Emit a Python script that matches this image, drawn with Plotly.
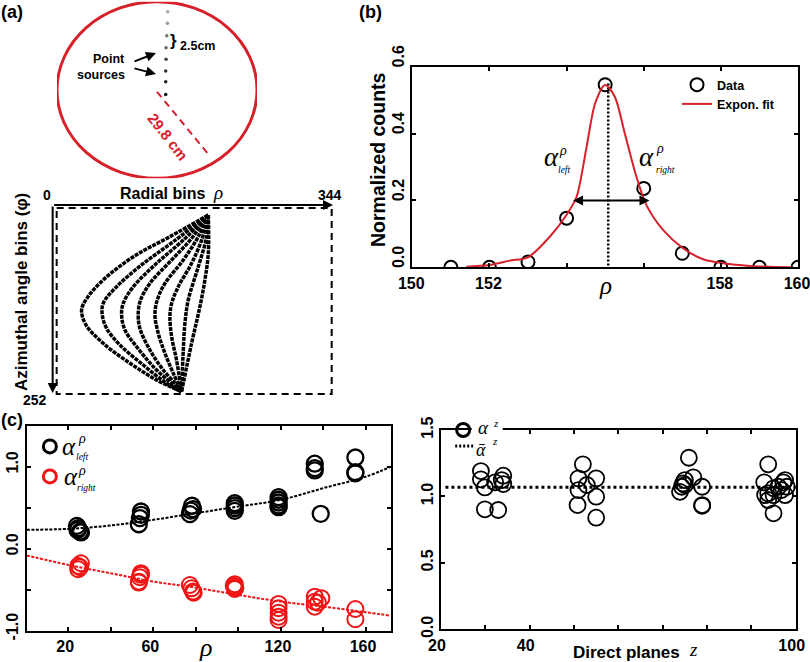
import plotly.graph_objects as go

W, H = 810, 662
SANS = "Liberation Sans"
SERIF = "Liberation Serif"
RED = "#ee1515"
RING = "#d6202a"

# (a) schematic, centimetres from the ring centre
ring_radius = 29.8
source_x = [3.2, 3.1, 2.9, 2.7, 2.7, 2.6, 2.6, 2.6]
source_y = [26.4, 22.5, 18.3, 14.3, 10.4, 6.4, 2.8, -1.5]
source_shade = ["#aaaaaa", "#999999", "#777777", "#666666", "#444444", "#333333", "#222222", "#111111"]
radius_x = [0, 15.9]
radius_y = [-0.6, -22.5]

# (a) sinogram curves, radial bin / angle bin
sino_x = [
    [191, 144, 99, 62, 42, 35.5, 41, 62, 95, 127.5, 158.2],
    [191, 148, 109, 78.5, 62, 60.9, 66.2, 82.6, 111.2, 139.8, 158.2],
    [191, 160.3, 127.5, 99, 86.6, 84.6, 88.7, 103, 123.5, 148, 158.2],
    [191, 170.5, 146, 119.4, 107.9, 105, 107, 119.4, 135.7, 152, 158.2],
    [191, 178.7, 160.3, 137.8, 128.4, 125.5, 129.6, 137.8, 148, 158.2],
    [191, 182.8, 170.5, 154.1, 146, 143.9, 146, 152, 158.2],
    [191, 189, 178.7, 166.4, 162.3, 160.3, 158.2],
    [191, 191, 186.8, 180.7, 170.5, 158.2],
]
sino_y = [
    [13.4, 42.4, 69.3, 100.5, 125.1, 140.7, 160.9, 185.4, 212.2, 234.6, 250.2],
    [13.4, 49.2, 80.4, 109.5, 131.8, 147.4, 165.3, 187.7, 214.5, 239, 250.2],
    [13.4, 47, 78.2, 109.5, 131.8, 147.4, 167.6, 189.9, 216.7, 241.3, 250.2],
    [13.4, 44.7, 73.7, 105, 127.3, 145.2, 165.3, 194.4, 221.2, 241.3, 250.2],
    [13.4, 42.4, 73.7, 105, 127.3, 147.4, 172, 198.8, 225.6, 250.2],
    [13.4, 47, 78.2, 109.5, 131.8, 149.7, 176.5, 207.8, 250.2],
    [13.4, 42.4, 82.7, 127.3, 158.6, 194.4, 250.2],
    [13.4, 64.8, 100.5, 136.3, 185.4, 250.2],
]

# (b) profile
b_data_x = [151, 152, 153, 154, 155, 156, 157, 158, 159, 160]
b_data_y = [0, 0, 0.016, 0.147, 0.546, 0.236, 0.042, 0, 0, 0]
b_fit_x = [151.4, 152.0, 152.53, 153.0, 153.57, 154.0, 154.26, 154.52, 154.74, 155.0, 155.25,
           155.51, 155.81, 156.07, 156.5, 157.02, 157.54, 158.06, 158.75, 159.8]
b_fit_y = [0.002, 0.007, 0.02, 0.03, 0.092, 0.157, 0.211, 0.361, 0.49, 0.545, 0.51,
           0.40, 0.271, 0.186, 0.112, 0.057, 0.024, 0.012, 0.004, 0]
b_xticks = [150, 152, 154, 156, 158, 160]
b_xlabels = ["150", "152", "", "", "158", "160"]
b_yticks = [0, 0.2, 0.4, 0.6]
b_ylabels = ["0.0", "0.2", "0.4", "0.6"]

# (c) left / right slopes against radial position
left_x = [24.1, 24.7, 24.4, 25.5, 26, 54.2, 54.2, 53.7, 53.2, 78.2, 78.7, 77.2, 77.6,
          98.3, 98.3, 98.3, 98.3, 118.9, 118.9, 118.9, 118.9, 118.9,
          135.9, 135.9, 135.9, 138.7, 155, 155, 155]
left_y = [0.28, 0.252, 0.23, 0.21, 0.2, 0.455, 0.415, 0.375, 0.30, 0.525, 0.484, 0.423, 0.467,
          0.557, 0.528, 0.496, 0.463, 0.63, 0.598, 0.565, 0.528, 0.508,
          1.037, 0.984, 0.955, 0.427, 1.113, 0.935, 0.92]
right_x = [26, 24.7, 24.7, 25.5, 54.2, 53.7, 53.2, 53.2, 54.2, 77.2, 78, 78.7, 79,
           98.3, 98.3, 98.3, 97.8, 98.6, 118.9, 118.9, 118.9, 118.9, 118.9,
           135.9, 135.9, 135.9, 139, 137.4, 155, 155]
right_y = [-0.175, -0.207, -0.248, -0.223, -0.296, -0.345, -0.399, -0.41, -0.316, -0.44, -0.48, -0.52, -0.533,
           -0.43, -0.46, -0.488, -0.448, -0.472, -0.67, -0.723, -0.777, -0.826, -0.866,
           -0.582, -0.643, -0.704, -0.60, -0.655, -0.732, -0.857]
left_fit_x = [0.5, 20, 40, 60, 80, 100, 120, 140, 160, 171.6]
left_fit_y = [0.232, 0.244, 0.285, 0.354, 0.435, 0.516, 0.598, 0.74, 0.88, 1.0]
right_fit_x = [0.5, 20, 40, 60, 80, 100, 120, 140, 160, 171.6]
right_fit_y = [-0.08, -0.195, -0.297, -0.398, -0.472, -0.561, -0.642, -0.703, -0.772, -0.813]
c_xticks = [20, 40, 60, 80, 100, 120, 140, 160]
c_xlabels = ["20", "", "60", "", "", "120", "", "160"]
c_yticks = [-1, -0.5, 0, 0.5, 1, 1.5]
c_ylabels = ["-1.0", "", "0.0", "", "1.0", ""]

# (c, right) slope against direct plane
z_x = [29.0, 29.0, 29.9, 32.2, 34.05, 34.05, 33.7, 29.9, 32.9,
       52, 51, 51, 50.8, 55, 55, 52.9, 55,
       75.9, 75, 74.6, 74.3, 73.9, 76.9, 78.9, 78.9, 75, 78.9,
       93.8, 92.9, 97.6, 97.2, 95, 93.8, 95, 95, 96.1, 97.6, 96.8, 93.1, 93.8, 98]
z_y = [1.191, 1.129, 1.068, 1.106, 1.156, 1.093, 1.123, 0.903, 0.898,
       1.242, 1.136, 1.048, 0.935, 1.136, 0.998, 1.086, 0.84,
       1.291, 1.123, 1.098, 1.073, 1.035, 1.144, 1.073, 0.935, 1.086, 0.93,
       1.242, 1.106, 1.123, 1.106, 0.873, 0.973, 1.061, 1.01, 1.073, 1.01, 1.048, 1.01, 1.023, 1.073]
z_mean = 1.07
z_span = [21, 101]
d_xticks = [20, 30, 40, 50, 60, 70, 80, 90, 100]
d_xlabels = ["20", "", "40", "", "", "", "", "", "100"]
d_yticks = [0, 0.5, 1, 1.5]
d_ylabels = ["0.0", "0.5", "1.0", "1.5"]


def xdom(a, b):
    return [a / W, b / W]


def ydom(top, bottom):
    return [1 - bottom / H, 1 - top / H]


fig = go.Figure()

# schematic
fig.add_trace(go.Scatter(x=radius_x, y=radius_y, mode="lines", xaxis="x", yaxis="y", showlegend=False,
                         line=dict(color=RING, width=2, dash="7px,5px")))
fig.add_trace(go.Scatter(x=source_x, y=source_y, mode="markers", xaxis="x", yaxis="y", showlegend=False,
                         marker=dict(color=source_shade, size=3.5)))
# sinogram
for cx, cy in zip(sino_x, sino_y):
    fig.add_trace(go.Scatter(x=cx, y=cy, mode="lines", xaxis="x2", yaxis="y2", showlegend=False,
                             line=dict(color="black", width=3.5, shape="spline", smoothing=1, dash="4px,1px")))
# (b)
fig.add_trace(go.Scatter(x=[155.08, 155.08], y=[0.55, 0], mode="lines", xaxis="x3", yaxis="y3", showlegend=False,
                         line=dict(color="black", width=2.5, dash="2px,2px")))
fig.add_trace(go.Scatter(x=b_data_x, y=b_data_y, mode="markers", name="Data", xaxis="x3", yaxis="y3",
                         marker=dict(symbol="circle-open", size=13, color="black", line=dict(width=2, color="black"))))
fig.add_trace(go.Scatter(x=b_fit_x, y=b_fit_y, mode="lines", name="Expon. fit", xaxis="x3", yaxis="y3",
                         line=dict(color=RING, width=2, shape="spline", smoothing=0.8)))
# (c)
for fx, fy, col in [(left_fit_x, left_fit_y, "black"), (right_fit_x, right_fit_y, RED)]:
    fig.add_trace(go.Scatter(x=fx, y=fy, mode="lines", xaxis="x4", yaxis="y4", showlegend=False,
                             line=dict(color=col, width=2, dash="3px,1.5px", shape="spline")))
for px_, py_, col, lw in [(left_x, left_y, "black", 2.3), (right_x, right_y, RED, 2)]:
    fig.add_trace(go.Scatter(x=px_, y=py_, mode="markers", xaxis="x4", yaxis="y4", showlegend=False,
                             marker=dict(symbol="circle-open", size=16, color=col, line=dict(width=lw, color=col))))
for ly, col in [(1.248, "black"), (0.882, RED)]:
    fig.add_trace(go.Scatter(x=[11.4], y=[ly], mode="markers", xaxis="x4", yaxis="y4", showlegend=False,
                             marker=dict(symbol="circle-open", size=13, color=col, line=dict(width=3, color=col))))
# (d)
fig.add_trace(go.Scatter(x=z_span, y=[z_mean, z_mean], mode="lines", xaxis="x5", yaxis="y5", showlegend=False,
                         cliponaxis=False, line=dict(color="black", width=3, dash="3px,3px")))
fig.add_trace(go.Scatter(x=z_x, y=z_y, mode="markers", xaxis="x5", yaxis="y5", showlegend=False, cliponaxis=False,
                         marker=dict(symbol="circle-open", size=16, color="black", line=dict(width=1.8, color="black"))))
fig.add_trace(go.Scatter(x=[25], y=[1.5], mode="markers", xaxis="x5", yaxis="y5", showlegend=False, cliponaxis=False,
                         marker=dict(symbol="circle-open", size=13, color="black", line=dict(width=3, color="black"))))
fig.add_trace(go.Scatter(x=[23.2, 27.3], y=[1.38, 1.38], mode="lines", xaxis="x5", yaxis="y5", showlegend=False,
                         cliponaxis=False, line=dict(color="black", width=3, dash="2px,2px")))


def ann(px, py, text, size=14, bold=True, serif=False, italic=False, color="black", angle=0, **kw):
    t = text
    if italic:
        t = f"<i>{t}</i>"
    fig.add_annotation(xref="paper", yref="paper", x=px / W, y=1 - py / H, text=t, showarrow=False,
                       textangle=angle, xanchor=kw.pop("xanchor", "center"), yanchor="middle",
                       font=dict(family=SERIF if serif else SANS, size=size, color=color,
                                 weight="bold" if bold else "normal"), **kw)


def arrow(x, y, ax, ay, xr, yr, width=2, head=1, side="end"):
    fig.add_annotation(x=x, y=y, ax=ax, ay=ay, xref=xr, yref=yr, axref=xr, ayref=yr, text="", showarrow=True,
                       arrowhead=2, arrowwidth=width, arrowsize=head, arrowside=side, arrowcolor="black")


def pixel_arrow(x0, y0, x1, y1):
    fig.add_annotation(xref="paper", yref="paper", x=x1 / W, y=1 - y1 / H, ax=x0 - x1, ay=y0 - y1,
                       axref="pixel", ayref="pixel", text="", showarrow=True, arrowhead=2,
                       arrowwidth=2, arrowsize=1, arrowcolor="black")


# panel letters
ann(12, 12, "(a)", 18)
ann(370, 12, "(b)", 18)
ann(12, 420, "(c)", 18)

# schematic text
ann(109, 59, "Point", 12.5)
ann(101, 75, "sources", 12.5)
ann(197, 46, "2.5cm", 12.5)
ann(173, 41, "}", 17)
ann(168, 136, "29.8 cm", 15, color=RING, angle=52)
pixel_arrow(133, 62, 156, 53)
pixel_arrow(133, 68, 156, 74)

# sinogram text
ann(162, 193, "Radial bins", 16)
ann(218, 192, "ρ", 19, bold=False, serif=True, italic=True)
ann(47, 195, "0", 14)
ann(330, 195, "344", 14)
ann(35, 400, "252", 14)
ann(21, 292, "Azimuthal angle bins (φ)", 17, angle=-90)
arrow(344, 0, 0, 0, "x2", "y2")
arrow(0, 252, 0, 0, "x2", "y2")

# (b) text
ann(378, 160, "Normalized counts", 19.5, angle=-90)
ann(605, 285, "ρ", 25, bold=False, serif=True, italic=True)
ann(551, 157, "α", 27, bold=False, serif=True, italic=True)
ann(563, 150, "ρ", 14, bold=False, serif=True, italic=True)
ann(564, 170, "left", 9.5, bold=False, serif=True, italic=True)
ann(646, 157, "α", 27, bold=False, serif=True, italic=True)
ann(660, 148, "ρ", 14, bold=False, serif=True, italic=True)
ann(665, 170, "right", 9.5, bold=False, serif=True, italic=True)
arrow(156.15, 0.2, 154.13, 0.2, "x3", "y3", side="end+start")

# (c) text
ann(205, 647, "ρ", 26, bold=False, serif=True, italic=True)
ann(69, 446, "α", 25, bold=False, serif=True, italic=True)
ann(82, 438, "ρ", 14, bold=False, serif=True, italic=True)
ann(82, 457, "left", 9.5, bold=False, serif=True, italic=True)
ann(71, 476, "α", 25, bold=False, serif=True, italic=True)
ann(82, 470, "ρ", 14, bold=False, serif=True, italic=True)
ann(86, 488, "right", 9.5, bold=False, serif=True, italic=True)

# (d) text
ann(483, 428, "α", 19, bold=False, serif=True, italic=True)
ann(496, 423, "z", 11, bold=False, serif=True, italic=True)
ann(481, 450, "ᾱ", 18, bold=False, serif=True, italic=True)
ann(495, 441, "z", 11, bold=False, serif=True, italic=True)
ann(626, 652, "Direct planes", 17)
ann(693, 649, "z", 19, bold=False, serif=True, italic=True)

fig.add_shape(type="circle", xref="x", yref="y", x0=-ring_radius, x1=ring_radius,
              y0=-ring_radius, y1=ring_radius, line=dict(color=RING, width=3))
fig.add_shape(type="rect", xref="x2", yref="y2", x0=4.9, x1=342.4, y0=4, y1=253.3,
              line=dict(color="black", width=2, dash="7px,5px"))
fig.add_shape(type="rect", xref="paper", yref="paper", x0=471.7 / W, x1=502.7 / W,
              y0=1 - 435 / H, y1=1 - 425 / H, fillcolor="white", line=dict(width=0), layer="above")

hidden = dict(visible=False, showgrid=False, zeroline=False)
box = dict(showline=True, linecolor="black", linewidth=2, mirror="ticks", ticks="inside", ticklen=4,
           tickwidth=2, tickcolor="black", showgrid=False, zeroline=False, automargin=False,
           ticklabeloverflow="allow",
           tickfont=dict(family=SANS, size=16, color="black", weight="bold"))

fig.update_layout(
    width=W, height=H, margin=dict(l=0, r=0, t=0, b=0, autoexpand=False), paper_bgcolor="white", plot_bgcolor="white",
    font=dict(family=SANS),
    legend=dict(x=677 / W, y=1 - 70 / H, xanchor="left", yanchor="top", bgcolor="rgba(0,0,0,0)",
                font=dict(family=SANS, size=12.5, color="black", weight="bold"), itemwidth=30, tracegroupgap=4),
    xaxis=dict(domain=xdom(57, 257), range=[-29.8, 29.8], **hidden),
    yaxis=dict(domain=ydom(1.7, 178.3), range=[-29.8, 29.8], **hidden),
    xaxis2=dict(domain=xdom(45, 340), range=[-9.4, 352.6], anchor="y2", **hidden),
    yaxis2=dict(domain=ydom(198, 400), range=[261.4, -9.4], anchor="x2", **hidden),
    xaxis3=dict(domain=xdom(412.3, 798), range=[150, 160], anchor="y3", tickvals=b_xticks, ticktext=b_xlabels,
                ticklabelshift=-1, **box),
    yaxis3=dict(domain=ydom(66.7, 267.3), range=[0, 0.6], anchor="x3", tickvals=b_yticks, ticktext=b_ylabels,
                tickangle=-90, ticklabelshift=-8, **box),
    xaxis4=dict(domain=xdom(26.7, 390.7), range=[0.5, 171.6], anchor="y4", tickvals=c_xticks, ticktext=c_xlabels,
                ticklabelshift=-3, **box),
    yaxis4=dict(domain=ydom(425.7, 631), range=[-1, 1.5], anchor="x4", tickvals=c_yticks, ticktext=c_ylabels,
                tickangle=-90, ticklabelshift=-2, **box),
    xaxis5=dict(domain=xdom(441, 795.7), range=[20, 100], anchor="y5", tickvals=d_xticks, ticktext=d_xlabels,
                ticklabelshift=-4, **box),
    yaxis5=dict(domain=ydom(430, 629.3), range=[0, 1.5], anchor="x5", tickvals=d_yticks, ticktext=d_ylabels,
                tickangle=-90, **box),
)

fig.write_html("out.html", post_script="document.body.style.margin='0';", config={"displayModeBar": False})
